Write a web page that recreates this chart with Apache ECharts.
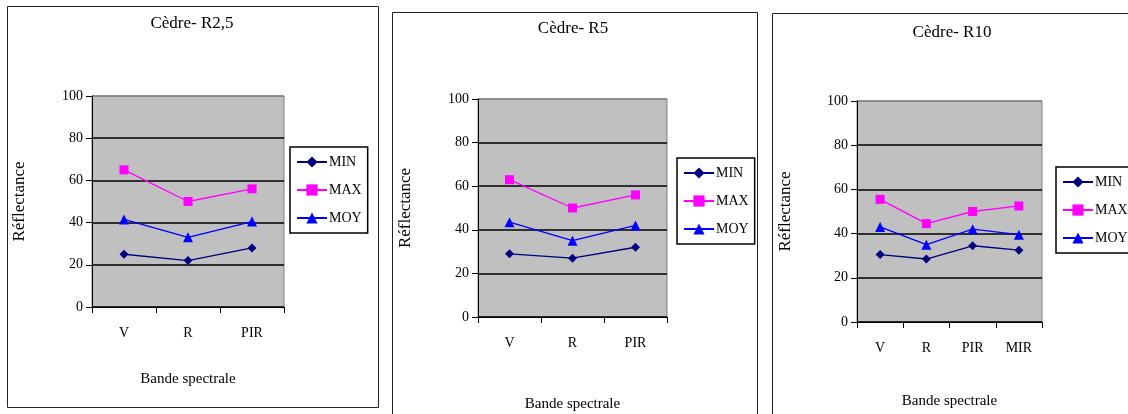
<!DOCTYPE html>
<html>
<head>
<meta charset="utf-8">
<script src="https://cdn.jsdelivr.net/npm/echarts@6/dist/echarts.min.js"></script>
<style>
html,body{margin:0;padding:0;background:#fff;}
#c{width:1128px;height:414px;}
</style>
</head>
<body>
<div id="c"></div>
<script>
// ---- data ----
const titles = ['Cèdre- R2,5', 'Cèdre- R5', 'Cèdre- R10'];
const categoriesA = ['V', 'R', 'PIR'];
const categoriesB = ['V', 'R', 'PIR', 'MIR'];
const seriesNames = ['MIN', 'MAX', 'MOY'];
const r25Min = [25, 22, 28];
const r25Max = [65, 50, 56];
const r25Moy = [41.5, 33, 40.5];
const r5Min = [29, 27, 32];
const r5Max = [63, 50, 56];
const r5Moy = [43.5, 35, 42];
const r10Min = [30.5, 28.5, 34.5, 32.5];
const r10Max = [55.5, 44.5, 50, 52.5];
const r10Moy = [43, 35, 42, 39.5];
const yMin = 0, yMax = 100, yStep = 20;
const yName = 'Réflectance';
const xName = 'Bande spectrale';

// ---- layout / style ----
const FONT = '"Liberation Serif", "DejaVu Serif", serif';
const panels = [
  { box: [7, 6, 371, 401], grid: { left: 92, top: 96, width: 192, height: 211 }, title: [192, 24], legend: [290, 147], xGap: 65, yGap: 64, cats: categoriesA, data: [r25Min, r25Max, r25Moy] },
  { box: [392, 12, 365, 420], grid: { left: 478, top: 99, width: 189, height: 218 }, title: [573, 29], legend: [677, 158], xGap: 80, yGap: 64, cats: categoriesA, data: [r5Min, r5Max, r5Moy] },
  { box: [772, 13, 380, 420], grid: { left: 857, top: 101, width: 185, height: 221 }, title: [952, 33], legend: [1056, 167], xGap: 72, yGap: 63, cats: categoriesB, data: [r10Min, r10Max, r10Moy] }
];
const colors = ['#000080', '#FF00FF', '#0000FF'];
const symbols = ['diamond', 'rect', 'triangle'];
const symbolSizes = [9, 9, 10];

const grids = [], xAxes = [], yAxes = [], series = [], legends = [], graphics = [];
panels.forEach((p, i) => {
  graphics.push({
    type: 'rect', z: -10,
    shape: { x: p.box[0] + 0.5, y: p.box[1] + 0.5, width: p.box[2], height: p.box[3] },
    style: { fill: '#fff', stroke: '#222', lineWidth: 1 }
  });
  graphics.push({
    type: 'text', z: 10,
    style: { text: titles[i], x: p.title[0], y: p.title[1], textAlign: 'center', textVerticalAlign: 'middle', font: '17px ' + FONT, fill: '#000' }
  });
  grids.push(Object.assign({ show: true, backgroundColor: '#C0C0C0', borderColor: '#808080', borderWidth: 1, containLabel: false, outerBoundsMode: 'none' }, p.grid));
  xAxes.push({
    type: 'category', gridIndex: i, data: p.cats, boundaryGap: true,
    name: xName, nameLocation: 'middle', nameGap: p.xGap,
    nameTextStyle: { fontFamily: FONT, fontSize: 15, color: '#000' },
    axisLine: { lineStyle: { color: '#000', width: 1 } },
    axisTick: { show: true, alignWithLabel: false, length: 6, lineStyle: { color: '#000' } },
    axisLabel: { fontFamily: FONT, fontSize: 14, color: '#000', margin: 19 },
    splitLine: { show: false }
  });
  yAxes.push({
    type: 'value', gridIndex: i, min: yMin, max: yMax, interval: yStep,
    name: yName, nameLocation: 'middle', nameGap: p.yGap, nameRotate: 90,
    nameTextStyle: { fontFamily: FONT, fontSize: 17, color: '#000' },
    axisLine: { show: true, lineStyle: { color: '#000', width: 1 } },
    axisTick: { show: true, length: 6, lineStyle: { color: '#000' } },
    axisLabel: { fontFamily: FONT, fontSize: 14, color: '#000', margin: 9 },
    splitLine: { show: true, lineStyle: { color: ['#000', '#000', '#000', '#000', '#000', '#808080'], width: 1.5 } }
  });
  seriesNames.forEach((n, k) => {
    series.push({
      type: 'line', name: n, xAxisIndex: i, yAxisIndex: i,
      data: p.data[k],
      symbol: symbols[k], symbolSize: symbolSizes[k], showAllSymbol: true,
      color: colors[k],
      lineStyle: { color: colors[k], width: 1.3 },
      itemStyle: { color: colors[k] },
      animation: false
    });
  });
  legends.push({
    orient: 'vertical', left: p.legend[0], top: p.legend[1],
    data: seriesNames,
    backgroundColor: '#fff', borderColor: '#000', borderWidth: 1.5,
    padding: [8, 6, 8, 6], itemGap: 14, itemWidth: 30, itemHeight: 14,
    textStyle: { fontFamily: FONT, fontSize: 14, color: '#000', padding: [0, 0, 0, -3] },
    selectedMode: false
  });
});

const chart = echarts.init(document.getElementById('c'), null, { renderer: 'canvas' });
chart.setOption({
  backgroundColor: '#fff',
  animation: false,
  grid: grids,
  xAxis: xAxes,
  yAxis: yAxes,
  legend: legends,
  series: series,
  graphic: graphics
});
</script>
</body>
</html>
